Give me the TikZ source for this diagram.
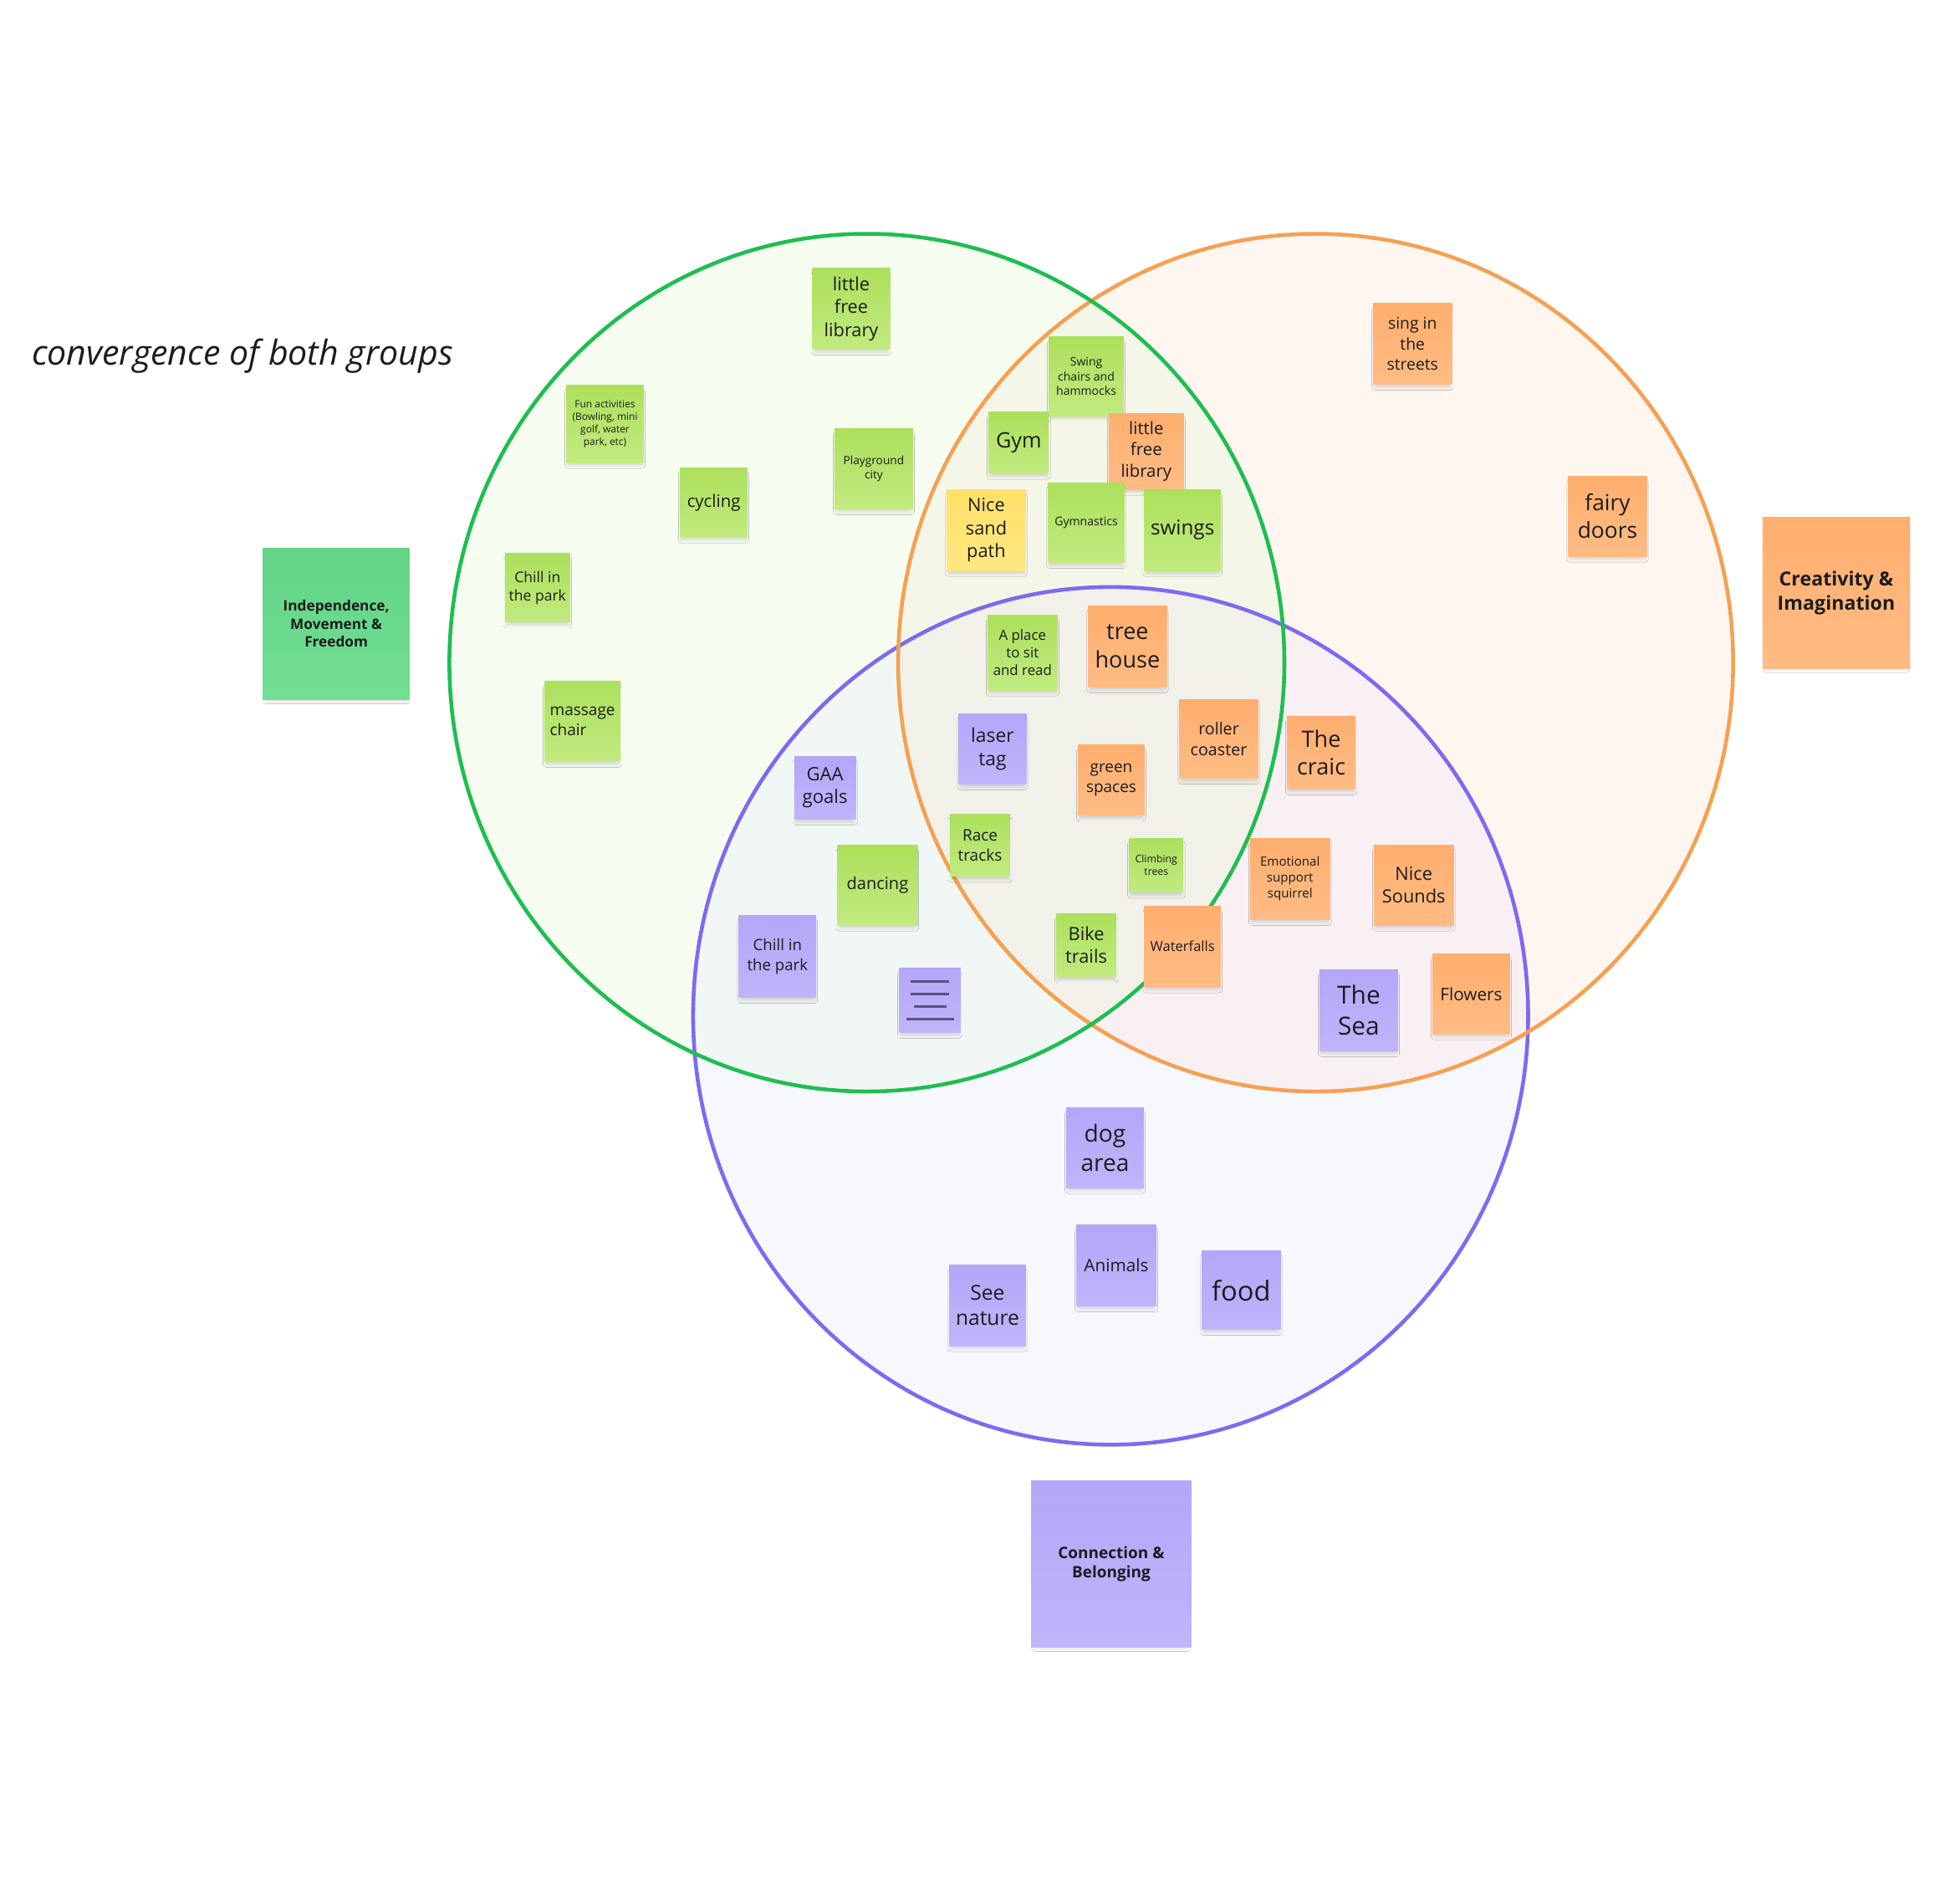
\documentclass[tikz,border=0pt]{standalone}
\usepackage{fontspec}
\setmainfont{Open Sans}
\usepackage{tikz}
\usetikzlibrary{calc,shadows.blur}

\definecolor{ink}{RGB}{28,28,30}
\definecolor{lime}{RGB}{172,224,92}
\definecolor{limelt}{RGB}{194,234,128}
\definecolor{peach}{RGB}{255,174,110}
\definecolor{peachlt}{RGB}{255,188,132}
\definecolor{lilac}{RGB}{180,166,248}
\definecolor{lilaclt}{RGB}{192,180,251}
\definecolor{mint}{RGB}{98,212,134}
\definecolor{mintlt}{RGB}{114,222,148}
\definecolor{sandy}{RGB}{255,224,104}
\definecolor{sandylt}{RGB}{255,232,130}
\definecolor{gline}{RGB}{30,190,80}
\definecolor{oline}{RGB}{246,160,82}
\definecolor{pline}{RGB}{126,106,240}
\definecolor{gfill}{RGB}{247,252,240}
\definecolor{ofill}{RGB}{255,246,240}
\definecolor{pfill}{RGB}{247,247,254}
\definecolor{gofill}{RGB}{244,246,232}
\definecolor{gpfill}{RGB}{241,247,245}
\definecolor{opfill}{RGB}{249,240,244}
\definecolor{allfill}{RGB}{241,241,233}
\definecolor{iconline}{RGB}{92,80,130}

\newcommand\stsize[1]{\fontsize{#1}{\dimexpr #1*5/4\relax}\selectfont}

\begin{document}
\begin{tikzpicture}[
  x=0.01495cm, y=-0.01495cm,
  ring/.style={x radius=334, y radius=343},
  note/.style={inner sep=0pt, align=center, text=ink,
    blur shadow={shadow xshift=0pt, shadow yshift=-1.6pt, shadow blur steps=5,
      shadow blur radius=1pt, shadow scale=0.96, shadow opacity=14}},
  wh/.style 2 args={minimum width=#1*0.01495cm, minimum height=#2*0.01495cm},
  fs/.style={font=\stsize{#1pt}},
  fsb/.style={font=\stsize{#1pt}\bfseries},
  limenote/.style={note, top color=lime, bottom color=limelt},
  peachnote/.style={note, top color=peach, bottom color=peachlt},
  lilacnote/.style={note, top color=lilac, bottom color=lilaclt},
  sandnote/.style={note, top color=sandy, bottom color=sandylt},
  mintnote/.style={note, top color=mint, bottom color=mintlt},
  icon/.style={iconline, line width=1pt}
]
\useasboundingbox (0,0) rectangle (1568,1512);
\fill[white] (0,0) rectangle (1568,1512);

\coordinate (cg) at (693.5,530);
\coordinate (co) at (1052.5,530);
\coordinate (cp) at (888.5,812.5);

\fill[gfill] (cg) ellipse [ring];
\fill[ofill] (co) ellipse [ring];
\fill[pfill] (cp) ellipse [ring];
\begin{scope}
  \clip (cg) ellipse [ring];
  \fill[gofill] (co) ellipse [ring];
  \fill[gpfill] (cp) ellipse [ring];
  \clip (co) ellipse [ring];
  \fill[allfill] (cp) ellipse [ring];
\end{scope}
\begin{scope}
  \clip (co) ellipse [ring];
  \fill[opfill] (cp) ellipse [ring];
  \clip (cg) ellipse [ring];
  \fill[allfill] (cp) ellipse [ring];
\end{scope}
\draw[pline, line width=1.3pt] (cp) ellipse [ring];
\draw[oline, line width=1.3pt] (co) ellipse [ring];
\draw[gline, line width=1.3pt] (cg) ellipse [ring];

\node[anchor=west, inner sep=0pt, text=ink, font=\itshape\stsize{11.7pt}] (title) at (25,285) {convergence of both groups};

\node[mintnote, wh={117}{121}, fsb=4.9] (indep) at (269,499) {Independence,\\Movement \&\\Freedom};
\node[peachnote, wh={118}{121}, fsb=6.6] (creat) at (1469,474) {Creativity \&\\Imagination};
\node[lilacnote, wh={128}{133}, fsb=5.4] (conn) at (889,1251) {Connection \&\\Belonging};

\node[limenote, wh={62}{65}, fs=6.2] (lib1) at (681,247) {little\\free\\library};
\node[limenote, wh={62}{62}, fs=3.4] (funact) at (484,339) {Fun activities\\(Bowling, mini\\golf, water\\park, etc)};
\node[limenote, wh={63}{64}, fs=3.9] (playg) at (699,375) {Playground\\city};
\node[limenote, wh={54}{55}, fs=5.8] (cycling) at (571,402) {cycling};
\node[limenote, wh={52}{55}, fs=5] (chill1) at (430,470) {Chill in\\the park};
\node[limenote, wh={61}{64}, fs=5.4, align=left] (massage) at (466,577) {massage\\chair};

\node[limenote, wh={60}{63}, fs=4] (swingch) at (869,301) {Swing\\chairs and\\hammocks};
\node[limenote, wh={48}{49}, fs=7.2] (gym) at (815,354) {Gym};
\node[peachnote, wh={60}{61}, fs=5.8] (lib2) at (917,361) {little\\free\\library};
\node[sandnote, wh={63}{65}, fs=6.2] (sandpath) at (789,424) {Nice\\sand\\path};
\node[limenote, wh={61}{64}, fs=4] (gymn) at (869,418) {Gymnastics};
\node[limenote, wh={61}{65}, fs=6.9] (swings) at (946,424) {swings};

\node[limenote, wh={56}{60}, fs=4.8] (place) at (818,522) {A place\\to sit\\and read};
\node[peachnote, wh={63}{65}, fs=7.7] (treeh) at (902,517) {tree\\house};
\node[lilacnote, wh={54}{56}, fs=6.5] (laser) at (794,599) {laser\\tag};
\node[peachnote, wh={53}{56}, fs=5.4] (greensp) at (889,624) {green\\spaces};
\node[peachnote, wh={63}{63}, fs=5.6] (roller) at (975,591) {roller\\coaster};
\node[limenote, wh={48}{50}, fs=5.4] (race) at (784,676) {Race\\tracks};
\node[limenote, wh={43}{43}, fs=3.5] (climb) at (925,692) {Climbing\\trees};
\node[limenote, wh={48}{50}, fs=6.2] (bike) at (869,756) {Bike\\trails};
\node[peachnote, wh={61}{65}, fs=4.7] (waterf) at (946,757) {Waterfalls};

\node[peachnote, wh={63}{65}, fs=5.5] (sing) at (1130,275) {sing in\\the\\streets};
\node[peachnote, wh={63}{64}, fs=7.5] (fairy) at (1286,413) {fairy\\doors};
\node[peachnote, wh={55}{58}, fs=7.7] (craic) at (1057,602) {The\\craic};
\node[peachnote, wh={64}{65}, fs=4.3] (emot) at (1032,703) {Emotional\\support\\squirrel};
\node[peachnote, wh={64}{64}, fs=6.2] (sounds) at (1131,708) {Nice\\Sounds};
\node[peachnote, wh={62}{64}, fs=5.9] (flowers) at (1177,795) {Flowers};
\node[lilacnote, wh={63}{65}, fs=8.5] (sea) at (1087,808) {The\\Sea};

\node[lilacnote, wh={49}{50}, fs=6.3] (gaa) at (660,630) {GAA\\goals};
\node[limenote, wh={64}{64}, fs=5.7] (dancing) at (702,708) {dancing};
\node[lilacnote, wh={62}{66}, fs=5.3] (chill2) at (622,765) {Chill in\\the park};
\node[lilacnote, wh={49}{51}] (blank) at (744,800) {};
\foreach \dy/\hw in {-15/15.5, -5/15.5, 5/13, 15/19}
  \draw[icon] ($(blank.center)+(-\hw,\dy)$) -- ($(blank.center)+(\hw,\dy)$);

\node[lilacnote, wh={62}{64}, fs=8] (dog) at (884,918) {dog\\area};
\node[lilacnote, wh={64}{65}, fs=5.9] (animals) at (893,1012) {Animals};
\node[lilacnote, wh={61}{65}, fs=7] (seenat) at (790,1044) {See\\nature};
\node[lilacnote, wh={63}{63}, fs=9.3] (food) at (993,1032) {food};
\end{tikzpicture}
\end{document}
